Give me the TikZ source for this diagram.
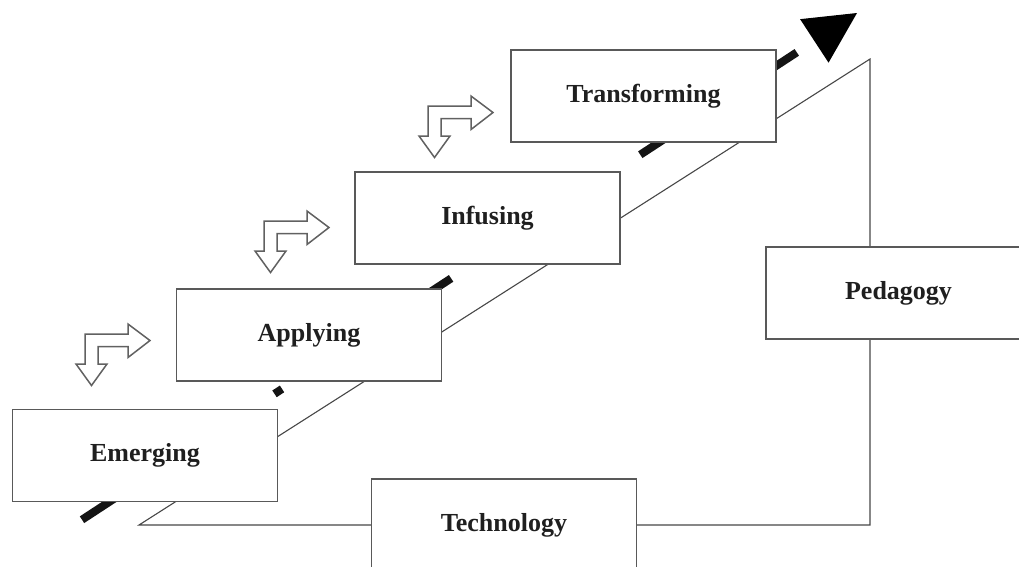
\documentclass[tikz,border=0pt]{standalone}
\usepackage{fontspec}
\setmainfont{Liberation Serif}
\usetikzlibrary{calc}
\definecolor{boxline}{gray}{0.35}
\definecolor{arrline}{gray}{0.38}
\definecolor{txt}{gray}{0.12}
\definecolor{thick}{gray}{0.08}
\tikzset{
  stage/.style={draw=boxline, line width=1.2pt, fill=white, minimum width=265pt,
    minimum height=92pt, inner sep=0pt, text=txt,
    font=\fontsize{26}{30}\selectfont\bfseries},
  frame/.style={draw=black!72, line width=1.1pt},
  dashline/.style={draw=thick, line width=8pt, line cap=butt,
    dash pattern=on 40pt off 190pt on 9pt off 165pt on 37pt off 226pt on 59pt off 90pt on 38pt off 100pt},
  bentarrow/.pic={
    \draw[draw=arrline, line width=1.5pt, fill=white, line join=miter]
      (0,0) -- (43,0) -- (43,-10) -- (65,6.5) -- (43,23.5) -- (43,12.5)
      -- (13,12.5) -- (13,30) -- (22,30) -- (6.5,51.5) -- (-9,30) -- (0,30) -- cycle;
  }
}
\begin{document}
\begin{tikzpicture}[x=1pt, y=-1pt]
\useasboundingbox (0,0) rectangle (1019,566);
% large frame (technology / pedagogy triangle)
\coordinate (A) at (139,525);
\coordinate (B) at (870,525);
\coordinate (C) at (870,59);
\draw[frame] (A) -- (B) -- (C) -- cycle;
% thick dashed progression line with triangular head
\coordinate (d0) at (82,519.7);
\coordinate (dtip) at (857,13);
\coordinate (dbase) at ($(dtip)!51pt!(d0)$);
\draw[dashline] (d0) -- (dbase);
\fill[thick] (dtip) -- ($(dbase)!26pt!90:(dtip)$) -- ($(dbase)!26pt!-90:(dtip)$) -- cycle;
% boxes
\node[stage] (emerging) at (145,455.5) {Emerging};
\node[stage] (applying) at (309,335) {Applying};
\node[stage] (infusing) at (487.5,218) {Infusing};
\node[stage] (transforming) at (643.5,96) {Transforming};
\node[stage] (technology) at (504,525) {Technology};
\node[stage] (pedagogy) at (898.5,293) {Pedagogy};
% bent arrows
\pic at (85,334) {bentarrow};
\pic at (264,221) {bentarrow};
\pic at (428,106) {bentarrow};
\end{tikzpicture}
\end{document}
